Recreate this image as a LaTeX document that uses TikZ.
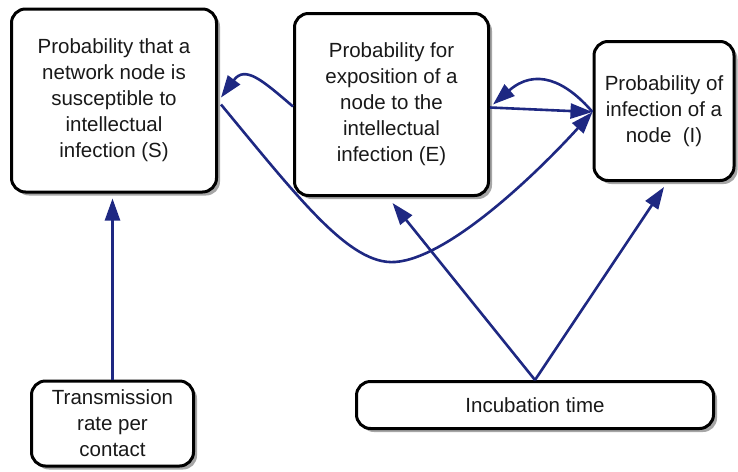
\documentclass[tikz,border=0pt]{standalone}
\usepackage{fontspec}
\setmainfont{Liberation Sans}
\usetikzlibrary{arrows.meta,shadows}
\definecolor{arrowblue}{RGB}{30,40,130}
\definecolor{textgray}{RGB}{25,25,25}

\begin{document}
\begin{tikzpicture}[x=1pt,y=-1pt,
  prob/.style={draw=black, line width=3pt, rounded corners=14pt, fill=white,
    drop shadow={shadow xshift=3.5pt, shadow yshift=-3.5pt, fill=black!50, opacity=.7},
    align=center, inner sep=0pt, text=textgray,
    font=\fontsize{20.5}{26}\selectfont},
  link/.style={draw=arrowblue, line width=2.6pt, -{Triangle[length=22pt,width=15pt]}}]
\useasboundingbox (0,0) rectangle (738,471);
%
\node[prob, minimum width=205pt, minimum height=183pt] (susc) at (114,100.5)
  {Probability that a\\ network node is\\ susceptible to\\ intellectual\\ infection (S)};
\node[prob, minimum width=194pt, minimum height=182pt] (expo) at (391.5,104.5)
  {Probability for\\ exposition of a\\ node to the\\ intellectual\\ infection (E)};
\node[prob, minimum width=140pt, minimum height=139pt] (infect) at (664,111)
  {Probability of\\ infection of a\\ node\ \ (I)};
%
\node[prob, minimum width=162pt, minimum height=85pt] (trans) at (112.5,423.5)
  {Transmission\\ rate per\\ contact};
\node[prob, minimum width=357pt, minimum height=47pt] (incub) at (535,405)
  {Incubation time};
%
\draw[link] (trans.north) -- ([yshift=-5pt]trans.north |- susc.south);
\draw[link] (incub.north) -- ([xshift=1pt,yshift=-6pt]expo.south);
\draw[link] (incub.north) -- ([yshift=-5pt]infect.south);
%
\draw[link] ([yshift=-2pt]expo.west) .. controls (262,80) and (245,65) .. ([xshift=3pt,yshift=3pt]susc.east);
\draw[link] ([xshift=3pt,yshift=-4pt]susc.east) .. controls (300,200) and (350,265) .. (395,262)
  .. controls (450,258) and (540,170) .. ([yshift=-1pt]infect.west);
\draw[link] ([yshift=-3pt]expo.east) -- ([yshift=-1pt]infect.west);
\draw[link] ([yshift=-1pt]infect.west) .. controls (565,80) and (535,68) .. ([xshift=3pt]expo.east);
\end{tikzpicture}
\end{document}
